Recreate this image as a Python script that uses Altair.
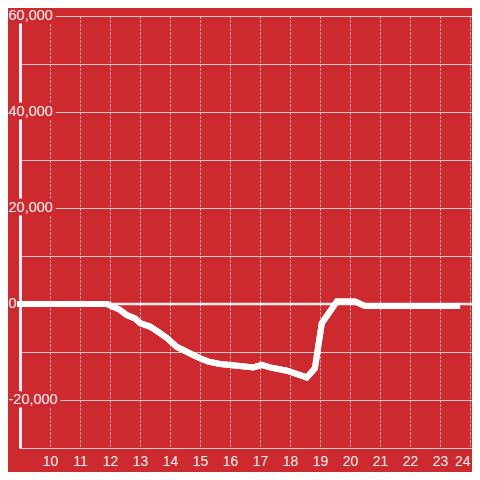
import altair as alt
import pandas as pd

# data
hours = [8.9, 11.9, 12.33, 12.56, 12.83, 13.0, 13.33, 13.6, 13.9, 14.22, 14.67, 15.0,
         15.28, 15.67, 16.33, 16.78, 17.06, 17.33, 17.9, 18.56, 18.83, 19.06, 19.56,
         20.17, 20.5, 23.67]
values = [0, 0, -1200, -2300, -3000, -4000, -4700, -5800, -7100, -8900, -10300, -11300,
          -12000, -12500, -12900, -13200, -12700, -13200, -13900, -15300, -13400, -4000,
          500, 500, -400, -400]

x_ticks = list(range(10, 25))
y_grid = [-30000, -20000, -10000, 0, 10000, 20000, 30000, 40000, 50000, 60000]
y_label_values = [60000, 40000, 20000, 0, -20000]
y_label_texts = ["60,000", "40,000", "20,000", "0", "-20,000"]

BG = "#cc2a2e"
FONT = "Liberation Sans"

df = pd.DataFrame({"h": hours, "v": values})
labels = pd.DataFrame({"v": y_label_values, "t": y_label_texts})
zero = pd.DataFrame({"v": [0]})

xscale = alt.Scale(domain=[9, 24.0667], nice=False, zero=False)
yscale = alt.Scale(domain=[-30000, 60000], nice=False, zero=False)

xaxis = alt.Axis(values=x_ticks, grid=True, gridColor="#cccccc", gridDash=[2, 2],
                 gridWidth=1, domain=False, ticks=False, tickSize=0, labelPadding=6,
                 labelFontSize=14, labelFont=FONT, labelColor="#eeeeee", title=None,
                 labelFlush=3, labelOverlap=False, labelBound=False)
yaxis = alt.Axis(values=y_grid, grid=True, gridColor="#cccccc", gridWidth=1,
                 domain=True, domainColor="#eeeeee", domainWidth=3, ticks=False,
                 labels=False, title=None)

line = alt.Chart(df).mark_line(
    color="white", strokeWidth=6, strokeCap="butt", strokeJoin="miter"
).encode(
    x=alt.X("h:Q", scale=xscale, axis=xaxis),
    y=alt.Y("v:Q", scale=yscale, axis=yaxis),
)

zero_rule = alt.Chart(zero).mark_rule(color="#eeeeee", strokeWidth=2.5).encode(
    y=alt.Y("v:Q", scale=yscale, axis=yaxis)
)

label_bg = alt.Chart(labels).mark_text(
    align="left", baseline="middle", dx=-11.5, fontSize=14.5, font=FONT,
    stroke=BG, strokeWidth=7, strokeJoin="round", fill=BG
).encode(
    x=alt.X(datum=9, scale=xscale, axis=xaxis),
    y=alt.Y("v:Q", scale=yscale, axis=yaxis),
    text="t:N",
)

label_fg = alt.Chart(labels).mark_text(
    align="left", baseline="middle", dx=-11.5, fontSize=14.5, font=FONT,
    fill="#eeeeee"
).encode(
    x=alt.X(datum=9, scale=xscale, axis=xaxis),
    y=alt.Y("v:Q", scale=yscale, axis=yaxis),
    text="t:N",
)

chart = alt.layer(line, zero_rule, label_bg, label_fg, line).properties(
    width=452, height=432,
    padding={"left": 12, "top": 8, "right": 0, "bottom": 24},
    autosize=alt.AutoSizeParams(type="none"),
    background=BG,
).configure_view(stroke=None)

chart.save("out.html", embed_options={"renderer": "svg", "actions": False})
